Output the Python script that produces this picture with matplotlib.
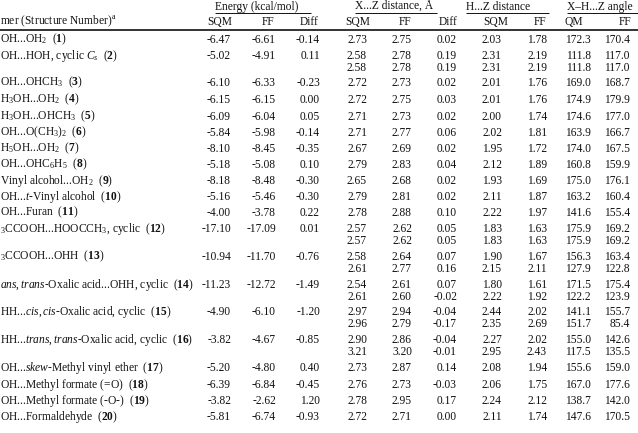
import matplotlib
matplotlib.use("Agg")
import matplotlib.pyplot as plt

plt.rcParams['font.family'] = ['Liberation Serif', 'DejaVu Serif']
plt.rcParams['mathtext.fontset'] = 'custom'
plt.rcParams['mathtext.rm'] = 'Liberation Serif'
plt.rcParams['mathtext.it'] = 'Liberation Serif:italic'
plt.rcParams['mathtext.bf'] = 'Liberation Serif:bold'
plt.rcParams['mathtext.default'] = 'regular'

# ---------------- data ----------------
labels = [
    r"OH...OH$_2$  ($\mathbf{1}$)",
    r"OH...HOH, cyclic $\mathit{C_s}$  ($\mathbf{2}$)",
    r"OH...OHCH$_3$  ($\mathbf{3}$)",
    r"H$_3$OH...OH$_2$  ($\mathbf{4}$)",
    r"H$_3$OH...OHCH$_3$  ($\mathbf{5}$)",
    r"OH...O(CH$_3$)$_2$  ($\mathbf{6}$)",
    r"H$_5$OH...OH$_2$  ($\mathbf{7}$)",
    r"OH...OHC$_6$H$_5$  ($\mathbf{8}$)",
    r"Vinyl alcohol...OH$_2$  ($\mathbf{9}$)",
    r"OH...$\mathit{t}$-Vinyl alcohol  ($\mathbf{10}$)",
    r"OH...Furan  ($\mathbf{11}$)",
    r"$_3$CCOOH...HOOCCH$_3$, cyclic  ($\mathbf{12}$)",
    r"$_3$CCOOH...OHH  ($\mathbf{13}$)",
    r"$\mathit{ans,trans}$-Oxalic acid...OHH, cyclic  ($\mathbf{14}$)",
    r"HH...$\mathit{cis,cis}$-Oxalic acid, cyclic  ($\mathbf{15}$)",
    r"HH...$\mathit{trans,trans}$-Oxalic acid, cyclic  ($\mathbf{16}$)",
    r"OH...$\mathit{skew}$-Methyl vinyl ether  ($\mathbf{17}$)",
    r"OH...Methyl formate (=O)  ($\mathbf{18}$)",
    r"OH...Methyl formate (-O-)  ($\mathbf{19}$)",
    r"OH...Formaldehyde  ($\mathbf{20}$)",
]

energy_sqm = [-6.47, -5.02, -6.10, -6.15, -6.09, -5.84, -8.10, -5.18, -8.18, -5.16,
              -4.00, -17.10, -10.94, -11.23, -4.90, -3.82, -5.20, -6.39, -3.82, -5.81]
energy_ff = [-6.61, -4.91, -6.33, -6.15, -6.04, -5.98, -8.45, -5.08, -8.48, -5.46,
             -3.78, -17.09, -11.70, -12.72, -6.10, -4.67, -4.80, -6.84, -2.62, -6.74]
energy_diff = [-0.14, 0.11, -0.23, 0.00, 0.05, -0.14, -0.35, 0.10, -0.30, -0.30,
               0.22, 0.01, -0.76, -1.49, -1.20, -0.85, 0.40, -0.45, 1.20, -0.93]

xz_sqm = [[2.73], [2.58, 2.58], [2.72], [2.72], [2.71], [2.71], [2.67], [2.79], [2.65], [2.79],
          [2.78], [2.57, 2.57], [2.58, 2.61], [2.54, 2.61], [2.97, 2.96], [2.90, 3.21],
          [2.73], [2.76], [2.78], [2.72]]
xz_ff = [[2.75], [2.78, 2.78], [2.73], [2.75], [2.73], [2.77], [2.69], [2.83], [2.68], [2.81],
         [2.88], [2.62, 2.62], [2.64, 2.77], [2.61, 2.60], [2.94, 2.79], [2.86, 3.20],
         [2.87], [2.73], [2.95], [2.71]]
xz_diff = [[0.02], [0.19, 0.19], [0.02], [0.03], [0.02], [0.06], [0.02], [0.04], [0.02], [0.02],
           [0.10], [0.05, 0.05], [0.07, 0.16], [0.07, -0.02], [-0.04, -0.17], [-0.04, -0.01],
           [0.14], [-0.03], [0.17], [0.00]]
hz_sqm = [[2.03], [2.31, 2.31], [2.01], [2.01], [2.00], [2.02], [1.95], [2.12], [1.93], [2.11],
          [2.22], [1.83, 1.83], [1.90, 2.15], [1.80, 2.22], [2.44, 2.35], [2.27, 2.95],
          [2.08], [2.06], [2.24], [2.11]]
hz_ff = [[1.78], [2.19, 2.19], [1.76], [1.76], [1.74], [1.81], [1.72], [1.89], [1.69], [1.87],
         [1.97], [1.63, 1.63], [1.67, 2.11], [1.61, 1.92], [2.02, 2.69], [2.02, 2.43],
         [1.94], [1.75], [2.12], [1.74]]
ang_qm = [[172.3], [111.8, 111.8], [169.0], [174.9], [174.6], [163.9], [174.0], [160.8], [175.0], [163.2],
          [141.6], [175.9, 175.9], [156.3, 127.9], [171.5, 122.2], [141.1, 151.7], [155.0, 117.5],
          [155.6], [167.0], [138.7], [147.6]]
ang_ff = [[170.4], [117.0, 117.0], [168.7], [179.9], [177.0], [166.7], [167.5], [159.9], [176.1], [160.4],
          [155.4], [169.2, 169.2], [163.4, 122.8], [175.4, 123.9], [155.7, 85.4], [142.6, 135.5],
          [159.0], [177.6], [142.0], [170.5]]

group_headers = ["Energy (kcal/mol)", "X...Z distance, Å", "H...Z distance", "X–H...Z angle"]
sub_headers = ["SQM", "FF", "Diff", "SQM", "FF", "Diff", "SQM", "FF", "QM", "FF"]
stub_header = r"mer (Structure Number)$^{\mathrm{a}}$"

# ---------------- layout (pixels) ----------------
W, H = 638, 433
fig = plt.figure(figsize=(W / 100, H / 100), dpi=100)
ax = fig.add_axes([0, 0, 1, 1])
ax.set_xlim(0, W)
ax.set_ylim(H, 0)
ax.axis('off')

FS = 8.3
TC = '#111111'
row_y = [39, 55, 82, 99, 116, 132, 148, 164, 180, 196, 212, 228, 256, 284, 311, 339, 367, 384, 400, 416]
line_gap = 12
col_right = [231, 276, 320, 367, 412, 457, 502, 547, 591, 630]
sub_center = [220, 268, 309, 358, 405, 448, 496, 540, 574, 625]
grp_span = [(215, 311), (355, 437), (466, 549), (567, 638)]
base = 3.7


def t(x, y, s, ha='left', **kw):
    ax.text(x, y + base, s, ha=ha, va='baseline', fontsize=FS, color=TC, **kw)


# headers
for (x0, x1), g in zip(grp_span, group_headers):
    t(x0, 6, g)
    ax.plot([x0, x1], [12.5, 12.5], color=TC, lw=0.7, solid_capstyle='butt')
for xc, s in zip(sub_center, sub_headers):
    t(xc, 21, s, ha='center')
t(0, 21, stub_header)
ax.plot([0, W], [29.5, 29.5], color=TC, lw=1.2, solid_capstyle='butt')

# body
for i, lab in enumerate(labels):
    y = row_y[i]
    t(0, y, lab)
    t(col_right[0], y, f"{energy_sqm[i]:.2f}", ha='right')
    t(col_right[1], y, f"{energy_ff[i]:.2f}", ha='right')
    t(col_right[2], y, f"{energy_diff[i]:.2f}", ha='right')
    multi = [xz_sqm, xz_ff, xz_diff, hz_sqm, hz_ff, ang_qm, ang_ff]
    fmts = ["{:.2f}"] * 5 + ["{:.1f}"] * 2
    for c, (arr, fm) in enumerate(zip(multi, fmts)):
        for k, v in enumerate(arr[i]):
            t(col_right[c + 3], y + k * line_gap, fm.format(v), ha='right')

fig.savefig("out.png", dpi=100)
